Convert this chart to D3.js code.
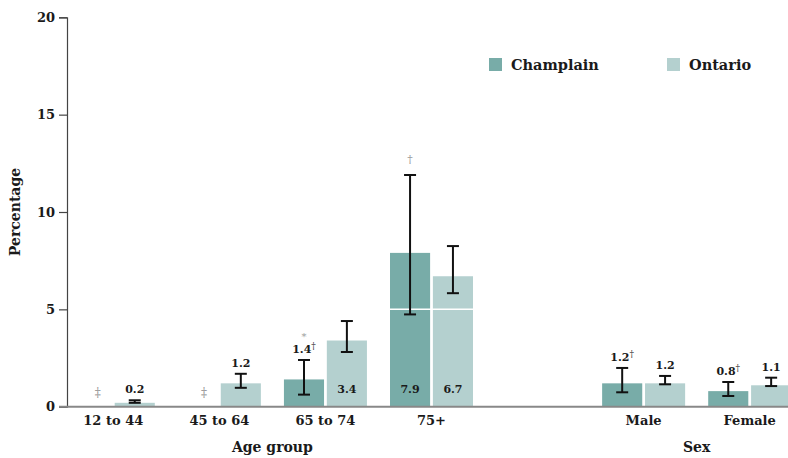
<!DOCTYPE html>
<html>
<head>
<meta charset="utf-8">
<script src="https://cdn.jsdelivr.net/npm/d3@7/dist/d3.min.js"></script>
<style>
  html, body { margin: 0; padding: 0; background: #fff; }
  svg text { font-family: "DejaVu Serif", serif; font-weight: bold; fill: #1a1a1a; }
</style>
</head>
<body>
<svg id="chart" width="788" height="458"></svg>
<script>
// Category slots along the x axis; "" is an empty spacer between the two panels
const categories = ["12 to 44", "45 to 64", "65 to 74", "75+", "", "Male", "Female"];
const panels = [
  { name: "Age group", from: "12 to 44", to: "75+" },
  { name: "Sex", from: "Male", to: "Female" }
];
const seriesNames = ["Champlain", "Ontario"];

// Champlain estimates, 95% CI bounds and note symbols
const champlainValues = [null, null, 1.4, 7.9, null, 1.2, 0.8];
const champlainLow    = [null, null, 0.62, 4.74, null, 0.74, 0.55];
const champlainHigh   = [null, null, 2.40, 11.90, null, 1.99, 1.27];
const champlainNotes  = ["‡", "‡", "*†", "†", "", "†", "†"];

// Ontario estimates and 95% CI bounds
const ontarioValues = [0.2, 1.2, 3.4, 6.7, null, 1.2, 1.1];
const ontarioLow    = [0.20, 0.97, 2.81, 5.83, null, 1.15, 1.06];
const ontarioHigh   = [0.33, 1.69, 4.40, 8.25, null, 1.58, 1.49];

const yTicks = [0, 5, 10, 15, 20];

const colors = { Champlain: "#78aca8", Ontario: "#b4d0cf" };

const svg = d3.select("#chart");

const y = d3.scaleLinear().domain([0, 20]).range([406.7, 17.3]);
const x = d3.scalePoint().domain(categories).range([113.3, 749.7]);
const xs = d3.scaleBand().domain(seriesNames).range([-41.5, 41.5]).paddingInner(0.065);

const rows = categories.map((c, i) => ({
  cat: c,
  series: [
    { s: "Champlain", v: champlainValues[i], lo: champlainLow[i], hi: champlainHigh[i], note: champlainNotes[i] },
    { s: "Ontario", v: ontarioValues[i], lo: ontarioLow[i], hi: ontarioHigh[i], note: "" }
  ]
})).filter(d => d.cat !== "");

// Bars
const g = svg.append("g");
rows.forEach(r => {
  r.series.forEach(d => {
    if (d.v == null) return;
    g.append("rect")
      .attr("x", x(r.cat) + xs(d.s))
      .attr("width", xs.bandwidth())
      .attr("y", y(d.v))
      .attr("height", y(0) - y(d.v))
      .attr("fill", colors[d.s]);
  });
});

// White reference lines drawn across the bars
svg.append("g").selectAll("line")
  .data(yTicks.filter(t => t > 0))
  .join("line")
  .attr("x1", 68).attr("x2", 788)
  .attr("y1", d => y(d)).attr("y2", d => y(d))
  .attr("stroke", "#fff").attr("stroke-width", 1.5);

// Error bars and labels
const capW = 12;
rows.forEach(r => {
  r.series.forEach(d => {
    const cx = x(r.cat) + xs(d.s) + xs.bandwidth() / 2;
    if (d.v == null) {
      if (d.note.includes("‡")) {
        svg.append("text").attr("x", cx + 6).attr("y", 397)
          .attr("text-anchor", "middle").attr("font-size", 12)
          .style("fill", "#9a9a9a").style("font-weight", "normal").text("‡");
      }
      return;
    }
    const eb = svg.append("g").attr("stroke", "#111").attr("stroke-width", 2);
    eb.append("line").attr("x1", cx).attr("x2", cx).attr("y1", y(d.hi)).attr("y2", y(d.lo));
    eb.append("line").attr("x1", cx - capW / 2).attr("x2", cx + capW / 2).attr("y1", y(d.hi)).attr("y2", y(d.hi));
    eb.append("line").attr("x1", cx - capW / 2).attr("x2", cx + capW / 2).attr("y1", y(d.lo)).attr("y2", y(d.lo));

    const dagger = d.note.includes("†");
    if (d.v >= 3) {
      // Label inside the bar, at its foot
      svg.append("text").attr("x", cx).attr("y", y(0) - 14)
        .attr("text-anchor", "middle").attr("font-size", 11).text(d.v.toFixed(1));
      if (dagger) {
        svg.append("text").attr("x", cx).attr("y", y(d.hi) - 12)
          .attr("text-anchor", "middle").attr("font-size", 11)
          .style("fill", "#9a9a9a").style("font-weight", "normal").text("†");
      }
    } else {
      const base = y(d.hi) - 7;
      const t = svg.append("text").attr("x", cx).attr("y", base)
        .attr("text-anchor", "middle").attr("font-size", 11);
      t.append("tspan").text(d.v.toFixed(1));
      if (dagger) {
        t.append("tspan").attr("dy", -4).attr("font-size", 9)
          .style("font-weight", "normal").style("fill", "#333").text("†");
      }
      if (d.note.includes("*")) {
        svg.append("text").attr("x", cx).attr("y", base - 13)
          .attr("text-anchor", "middle").attr("font-size", 10)
          .style("fill", "#9a9a9a").style("font-weight", "normal").text("*");
      }
    }
  });
});

// Y axis
const yAxis = svg.append("g").attr("transform", "translate(67,0)")
  .call(d3.axisLeft(y).tickValues(yTicks).tickSize(8).tickPadding(4));
yAxis.select(".domain").attr("stroke", "#444").attr("stroke-width", 1.2);
yAxis.selectAll(".tick line").attr("stroke", "#444").attr("stroke-width", 1.2);
yAxis.selectAll(".tick text").attr("font-size", 13).style("font-family", "DejaVu Serif").style("font-weight", "bold").attr("fill", "#1a1a1a");

// X baseline
svg.append("line").attr("x1", 59).attr("x2", 788).attr("y1", y(0)).attr("y2", y(0))
  .attr("stroke", "#888").attr("stroke-width", 2);

// X tick labels
svg.append("g").selectAll("text")
  .data(categories.filter(c => c !== ""))
  .join("text")
  .attr("x", d => x(d)).attr("y", 425)
  .attr("text-anchor", "middle").attr("font-size", 13).text(d => d);

// Panel titles
svg.append("g").selectAll("text")
  .data(panels)
  .join("text")
  .attr("x", d => (x(d.from) + x(d.to)) / 2).attr("y", 452)
  .attr("text-anchor", "middle").attr("font-size", 14).text(d => d.name);

// Y axis title
svg.append("text").attr("transform", "translate(20,212) rotate(-90)")
  .attr("text-anchor", "middle").attr("font-size", 14).text("Percentage");

// Legend
const legendX = [489, 667];
const lg = svg.append("g").selectAll("g").data(seriesNames).join("g")
  .attr("transform", (d, i) => `translate(${legendX[i]},58)`);
lg.append("rect").attr("width", 13).attr("height", 13).attr("fill", d => colors[d]);
lg.append("text").attr("x", 22).attr("y", 12).attr("font-size", 14.5).text(d => d);
</script>
</body>
</html>
